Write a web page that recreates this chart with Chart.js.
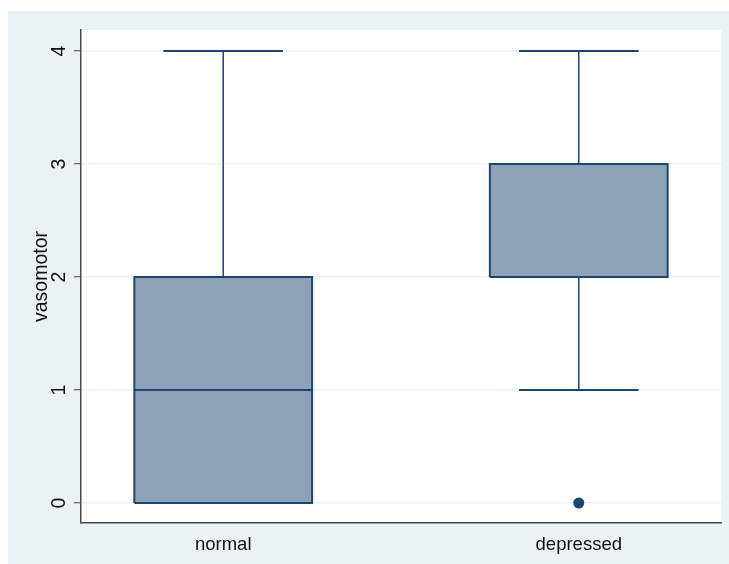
<!DOCTYPE html>
<html>
<head>
<meta charset="utf-8">
<script src="https://cdn.jsdelivr.net/npm/chart.js@4/dist/chart.umd.min.js"></script>
<style>
  html, body { margin: 0; padding: 0; background: #ffffff; }
  #c { display: block; }
</style>
</head>
<body>
<canvas id="c" width="729" height="564"></canvas>
<script>
// ---- data ----
const categories = ['normal', 'depressed'];
const positions = [1, 2];
const lowerWhisker = [0, 1];
const q1 = [0, 2];
const median = [1, 2];
const q3 = [2, 3];
const upperWhisker = [4, 4];
const outliers = [[], [0]];
const yTicks = [0, 1, 2, 3, 4];
const yTitle = 'vasomotor';

// ---- style ----
const STROKE = '#1a476f';
const FILL = '#8ea3b8';
const BG = '#eaf2f3';
const GRID = '#eaf2f3';
const AXIS = '#4a4a4a';
const TEXT = '#111111';
const FONT = '"Liberation Sans", Arial, sans-serif';
const BOX_HALF = 0.25;
const CAP_HALF = 0.168;

// ---- derived mark data (through scales) ----
const whiskerPts = [];
const capPts = [];
const medianPts = [];
const outlinePts = [];
positions.forEach((p, i) => {
  whiskerPts.push({x: p, y: q3[i]}, {x: p, y: upperWhisker[i]}, {x: p, y: null});
  whiskerPts.push({x: p, y: q1[i]}, {x: p, y: lowerWhisker[i]}, {x: p, y: null});
  capPts.push({x: p - CAP_HALF, y: upperWhisker[i]}, {x: p + CAP_HALF, y: upperWhisker[i]}, {x: p, y: null});
  capPts.push({x: p - CAP_HALF, y: lowerWhisker[i]}, {x: p + CAP_HALF, y: lowerWhisker[i]}, {x: p, y: null});
  medianPts.push({x: p - BOX_HALF, y: median[i]}, {x: p + BOX_HALF, y: median[i]}, {x: p, y: null});
  outlinePts.push(
    {x: p - BOX_HALF, y: q1[i]}, {x: p + BOX_HALF, y: q1[i]},
    {x: p + BOX_HALF, y: q3[i]}, {x: p - BOX_HALF, y: q3[i]},
    {x: p - BOX_HALF, y: q1[i]}, {x: p, y: null}
  );
});
const outlierPts = [];
positions.forEach((p, i) => outliers[i].forEach(v => outlierPts.push({x: p, y: v})));
const boxData = positions.map((p, i) => ({x: p, y: [q1[i], q3[i]]}));

const bgPlugin = {
  id: 'bg',
  beforeDraw(chart) {
    const {ctx, chartArea: a} = chart;
    ctx.save();
    ctx.fillStyle = '#ffffff';
    ctx.fillRect(0, 0, chart.width, chart.height);
    ctx.fillStyle = BG;
    ctx.fillRect(8, 11, chart.width - 8, chart.height - 11);
    ctx.fillStyle = '#ffffff';
    ctx.fillRect(a.left, a.top, a.right - a.left, a.bottom - a.top);
    ctx.restore();
  },
  afterDraw(chart) {
    const {ctx, chartArea: a} = chart;
    const ys = chart.scales.y;
    ctx.save();
    ctx.fillStyle = TEXT;
    ctx.textAlign = 'center';
    ctx.textBaseline = 'alphabetic';
    ctx.font = '19.5px ' + FONT;
    ys.ticks.forEach(t => {
      const py = ys.getPixelForValue(t.value);
      ctx.save();
      ctx.translate(65, py);
      ctx.rotate(-Math.PI / 2);
      ctx.fillText(String(t.value), 0, 0);
      ctx.restore();
    });
    ctx.save();
    ctx.translate(47, (a.top + a.bottom) / 2);
    ctx.rotate(-Math.PI / 2);
    ctx.fillText(yTitle, 0, 0);
    ctx.restore();
    ctx.restore();
  }
};

const lineDs = (data, width) => ({
  type: 'line',
  data: data,
  borderColor: STROKE,
  borderWidth: width,
  borderJoinStyle: 'miter',
  borderCapStyle: 'butt',
  pointRadius: 0,
  spanGaps: false,
  fill: false,
  tension: 0
});

new Chart(document.getElementById('c'), {
  type: 'bar',
  data: {
    datasets: [
      {
        type: 'scatter',
        data: outlierPts,
        pointRadius: 5.5,
        pointBackgroundColor: STROKE,
        pointBorderWidth: 0,
        showLine: false
      },
      lineDs(medianPts, 2),
      lineDs(outlinePts, 2),
      lineDs(capPts, 2),
      lineDs(whiskerPts, 1.5),
      {
        type: 'bar',
        data: boxData,
        backgroundColor: FILL,
        borderWidth: 0,
        barPercentage: 2 * BOX_HALF,
        categoryPercentage: 1.0
      }
    ]
  },
  options: {
    responsive: false,
    animation: false,
    devicePixelRatio: 1,
    layout: { padding: { left: 0, top: 30, right: 8, bottom: 0 } },
    plugins: { legend: { display: false }, tooltip: { enabled: false } },
    scales: {
      x: {
        type: 'linear',
        offset: false,
        min: 0.6,
        max: 2.4,
        afterBuildTicks: s => { s.ticks = positions.map(v => ({value: v})); },
        afterFit: s => { s.height = 41; },
        grid: { display: false },
        border: { display: true, color: AXIS, width: 1.5 },
        ticks: {
          padding: 3,
          autoSkip: false,
          maxRotation: 0,
          color: TEXT,
          font: { family: FONT, size: 18.5 },
          callback: v => categories[positions.indexOf(v)]
        }
      },
      y: {
        type: 'linear',
        min: -0.177,
        max: 4.186,
        afterBuildTicks: s => { s.ticks = yTicks.map(v => ({value: v})); },
        afterFit: s => { s.width = 81; },
        grid: {
          color: GRID,
          lineWidth: 1.5,
          drawTicks: true,
          tickLength: 7,
          tickColor: AXIS,
          tickWidth: 1
        },
        border: { display: true, color: AXIS, width: 1.5 },
        ticks: { display: false }
      }
    }
  },
  plugins: [bgPlugin]
});
</script>
</body>
</html>
